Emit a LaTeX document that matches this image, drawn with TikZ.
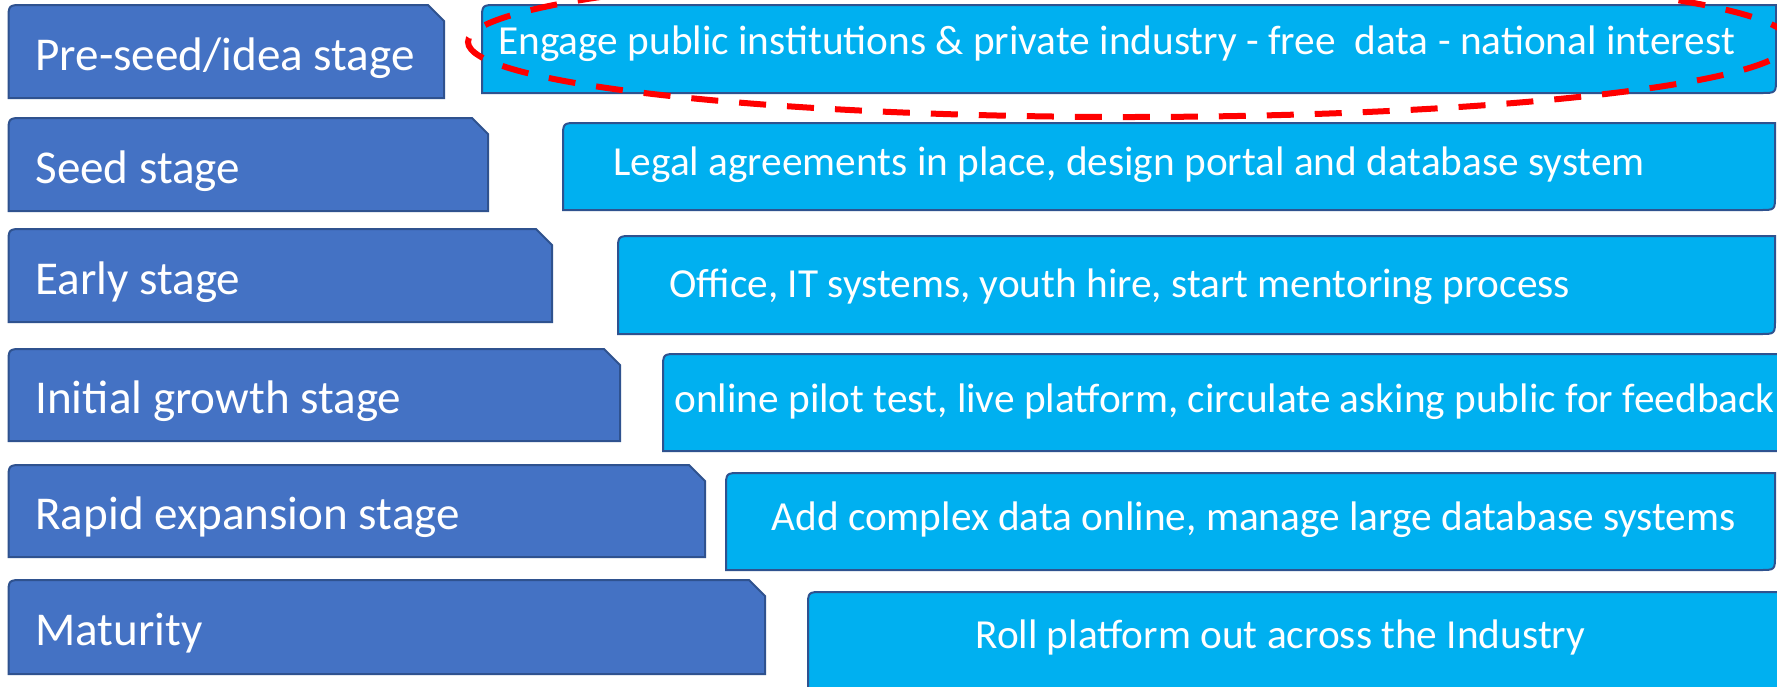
\documentclass[tikz,border=0pt]{standalone}
\usepackage{fontspec}
\setmainfont{Carlito}
\usetikzlibrary{shapes.geometric}
\definecolor{stagefill}{HTML}{4472C4}
\definecolor{stageedge}{HTML}{2F528F}
\definecolor{taskfill}{HTML}{00B0F0}
\definecolor{ringred}{HTML}{FF0000}
\tikzset{
  stagebox/.style={draw=stageedge, fill=stagefill, line width=1pt},
  taskbox/.style={draw=stageedge, fill=taskfill, line width=1pt},
  stagetext/.style={anchor=base west, inner sep=0pt, text=white, font=\fontsize{23.55}{27}\selectfont},
  tasktext/.style={anchor=base west, inner sep=0pt, text=white, font=\fontsize{20.65}{25}\selectfont},
  ring/.style={ellipse, draw=ringred, line width=3pt, dash pattern=on 13.5pt off 10.5pt,
    minimum width=661pt, minimum height=75pt, inner sep=0pt},
}
\begin{document}
\begin{tikzpicture}[x=0.5pt,y=-0.5pt]
\useasboundingbox (0,0) rectangle (1777,686);
\clip (0,0) rectangle (1777,686);
\fill[white] (0,0) rectangle (1777,686);
\pgfmathsetmacro{\snip}{16}
\pgfmathsetmacro{\rad}{15}
% stages
\draw[stagebox] (8.5,98) -- (8.5,{5+\rad}) .. controls (8.5,5) .. ({8.5+\rad},5) -- ({444-\snip},5) -- (444,{5+\snip}) -- (444,98) -- cycle;
\draw[stagebox] (8.5,211) -- (8.5,{118+\rad}) .. controls (8.5,118) .. ({8.5+\rad},118) -- ({488-\snip},118) -- (488,{118+\snip}) -- (488,211) -- cycle;
\draw[stagebox] (8.5,322) -- (8.5,{229+\rad}) .. controls (8.5,229) .. ({8.5+\rad},229) -- ({552-\snip},229) -- (552,{229+\snip}) -- (552,322) -- cycle;
\draw[stagebox] (8.5,441) -- (8.5,{349+\rad}) .. controls (8.5,349) .. ({8.5+\rad},349) -- ({620-\snip},349) -- (620,{349+\snip}) -- (620,441) -- cycle;
\draw[stagebox] (8.5,557) -- (8.5,{465+\rad}) .. controls (8.5,465) .. ({8.5+\rad},465) -- ({705-\snip},465) -- (705,{465+\snip}) -- (705,557) -- cycle;
\draw[stagebox] (8.5,674) -- (8.5,{580+\rad}) .. controls (8.5,580) .. ({8.5+\rad},580) -- ({765-\snip},580) -- (765,{580+\snip}) -- (765,674) -- cycle;
% tasks
\draw[taskbox] (482,93) -- (482,{5+\rad}) .. controls (482,5) .. ({482+\rad},5) -- (1776,5) -- (1776,{93-\rad}) .. controls (1776,93) .. ({1776-\rad},93) -- cycle;
\draw[taskbox] (563,210) -- (563,{123+\rad}) .. controls (563,123) .. ({563+\rad},123) -- (1775,123) -- (1775,{210-\rad}) .. controls (1775,210) .. ({1775-\rad},210) -- cycle;
\draw[taskbox] (618,334) -- (618,{236+\rad}) .. controls (618,236) .. ({618+\rad},236) -- (1775,236) -- (1775,{334-\rad}) .. controls (1775,334) .. ({1775-\rad},334) -- cycle;
\draw[taskbox] (663,451) -- (663,{354+\rad}) .. controls (663,354) .. ({663+\rad},354) -- (1800,354) -- (1800,451) -- cycle;
\draw[taskbox] (726,570) -- (726,{473+\rad}) .. controls (726,473) .. ({726+\rad},473) -- (1775,473) -- (1775,{570-\rad}) .. controls (1775,570) .. ({1775-\rad},570) -- cycle;
\draw[taskbox] (808,710) -- (808,{592+\rad}) .. controls (808,592) .. ({808+\rad},592) -- (1800,592) -- (1800,710) -- cycle;
% labels
\node[stagetext] (preseed) at (35,70) {Pre-seed/idea stage};
\node[stagetext] (seed) at (35,183) {Seed stage};
\node[stagetext] (early) at (35,294) {Early stage};
\node[stagetext] (initial) at (35,413) {Initial growth stage};
\node[stagetext] (rapid) at (35,529) {Rapid expansion stage};
\node[stagetext] (mature) at (35,645) {Maturity};
\node[tasktext] (engage) at (498,54) {Engage public institutions \& private industry - free\ \ data - national interest};
\node[tasktext] (legal) at (613,175) {Legal agreements in place, design portal and database system};
\node[tasktext] (office) at (669,297) {Office, IT systems, youth hire, start mentoring process};
\node[tasktext] (pilot) at (674,412) {online pilot test, live platform, circulate asking public for feedback};
\node[tasktext] (complex) at (771,530) {Add complex data online, manage large database systems};
\node[tasktext] (rollout) at (975,648) {Roll platform out across the Industry};
% highlight
\node[ring] (focus) at (1129,42) {};
\end{tikzpicture}
\end{document}
